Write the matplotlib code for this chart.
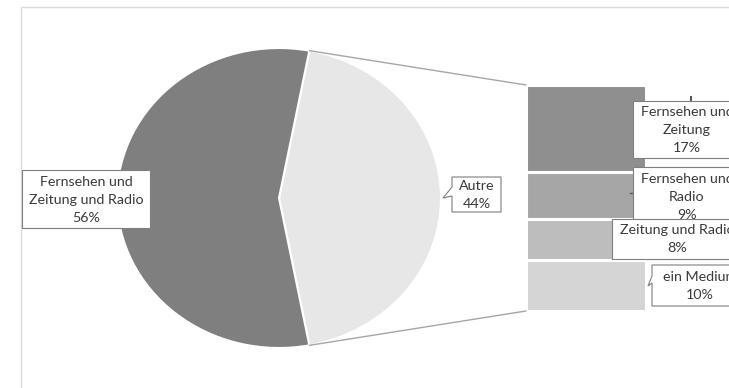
import numpy as np
import matplotlib.pyplot as plt
from matplotlib.patches import ConnectionPatch, Polygon

# data
pie_labels = ["Autre", "Fernsehen und\nZeitung und Radio"]
pie_values = [44, 56]
pie_colors = ["#e7e7e7", "#7f7f7f"]

bar_labels = ["Fernsehen und\nZeitung", "Fernsehen und\nRadio",
              "Zeitung und Radio", "ein Medium"]
bar_values = [17, 9, 8, 10]
bar_colors = ["#8f8f8f", "#a6a6a6", "#bdbdbd", "#d5d5d5"]

W, H = 729, 388
plt.rcParams['font.family'] = ['Lato', 'DejaVu Sans']
txt_col = "#3a3a3a"
fs = 10.3

fig = plt.figure(figsize=(W / 100, H / 100), dpi=100)


def px_axes(x0, y0, x1, y1):
    return fig.add_axes([x0 / W, 1 - y1 / H, (x1 - x0) / W, (y1 - y0) / H])


# pie (elliptical, as in the original)
ax_pie = px_axes(117, 48, 441, 348)
half = pie_values[0] * 3.6 / 2
ax_pie.pie(pie_values, colors=pie_colors, startangle=-half, counterclock=True,
           wedgeprops=dict(edgecolor="white", linewidth=1.5))
ax_pie.set_aspect('auto')
ax_pie.set_xlim(-1, 1)
ax_pie.set_ylim(-1, 1)
ax_pie.axis('off')

# stacked bar (top to bottom in the order given)
ax_bar = px_axes(526, 85, 646, 311)
bottom = sum(bar_values)
for v, c in zip(bar_values, bar_colors):
    bottom -= v
    ax_bar.bar(0, v, bottom=bottom, width=1, color=c, edgecolor="white", linewidth=2.2)
ax_bar.set_xlim(-0.5, 0.5)
ax_bar.set_ylim(0, sum(bar_values))
ax_bar.axis('off')

# connector lines
t = np.radians(half)
for ya, yb in [(np.sin(t), sum(bar_values)), (-np.sin(t), 0)]:
    con = ConnectionPatch(xyA=(np.cos(t), ya), coordsA=ax_pie.transData,
                          xyB=(-0.5, yb), coordsB=ax_bar.transData,
                          color="#a6a6a6", linewidth=1)
    fig.add_artist(con)

# overlay in pixel coordinates for frame and labels
ov = fig.add_axes([0, 0, 1, 1], zorder=5)
ov.set_xlim(0, W)
ov.set_ylim(H, 0)
ov.axis('off')
ov.patch.set_alpha(0)

ov.plot([21, 21, W], [H, 7, 7], color="#d9d9d9", linewidth=1)
# short leader stubs
ov.plot([691, 691], [97, 101], color="#595959", linewidth=1.5)
ov.plot([630, 633], [193, 193], color="#595959", linewidth=1)


def label(x0, y0, x1, y1, text, z, pointer=None):
    pts = [(x0, y0), (x1, y0), (x1, y1), (x0, y1)]
    if pointer is not None:
        pts += pointer
    ov.add_patch(Polygon(pts, closed=True, facecolor="white", edgecolor="#7f7f7f",
                         linewidth=0.8, zorder=z))
    ov.text((x0 + x1) / 2, (y0 + y1) / 2 + 0.5, text, ha="center", va="center",
            fontsize=fs, color=txt_col, linespacing=1.6, zorder=z + 0.1)


label(22, 170, 150, 228, "%s\n%d%%" % (pie_labels[1], pie_values[1]), 3)
label(452, 177, 501, 212, "%s\n%d%%" % (pie_labels[0], pie_values[0]), 3,
      pointer=[(452, 196), (443, 198), (452, 187)])

label(633, 101, 741, 158, "%s\n%d%%" % (bar_labels[0], bar_values[0]), 3)
label(633, 167, 741, 226, "%s\n%d%%" % (bar_labels[1], bar_values[1]), 4)
label(612, 219, 742, 259, "%s\n%d%%" % (bar_labels[2], bar_values[2]), 5)
label(652, 265, 748, 306, "%s\n%d%%" % (bar_labels[3], bar_values[3]), 6,
      pointer=[(652, 283), (648, 286), (652, 276)])

fig.savefig("out.png", dpi=100)
